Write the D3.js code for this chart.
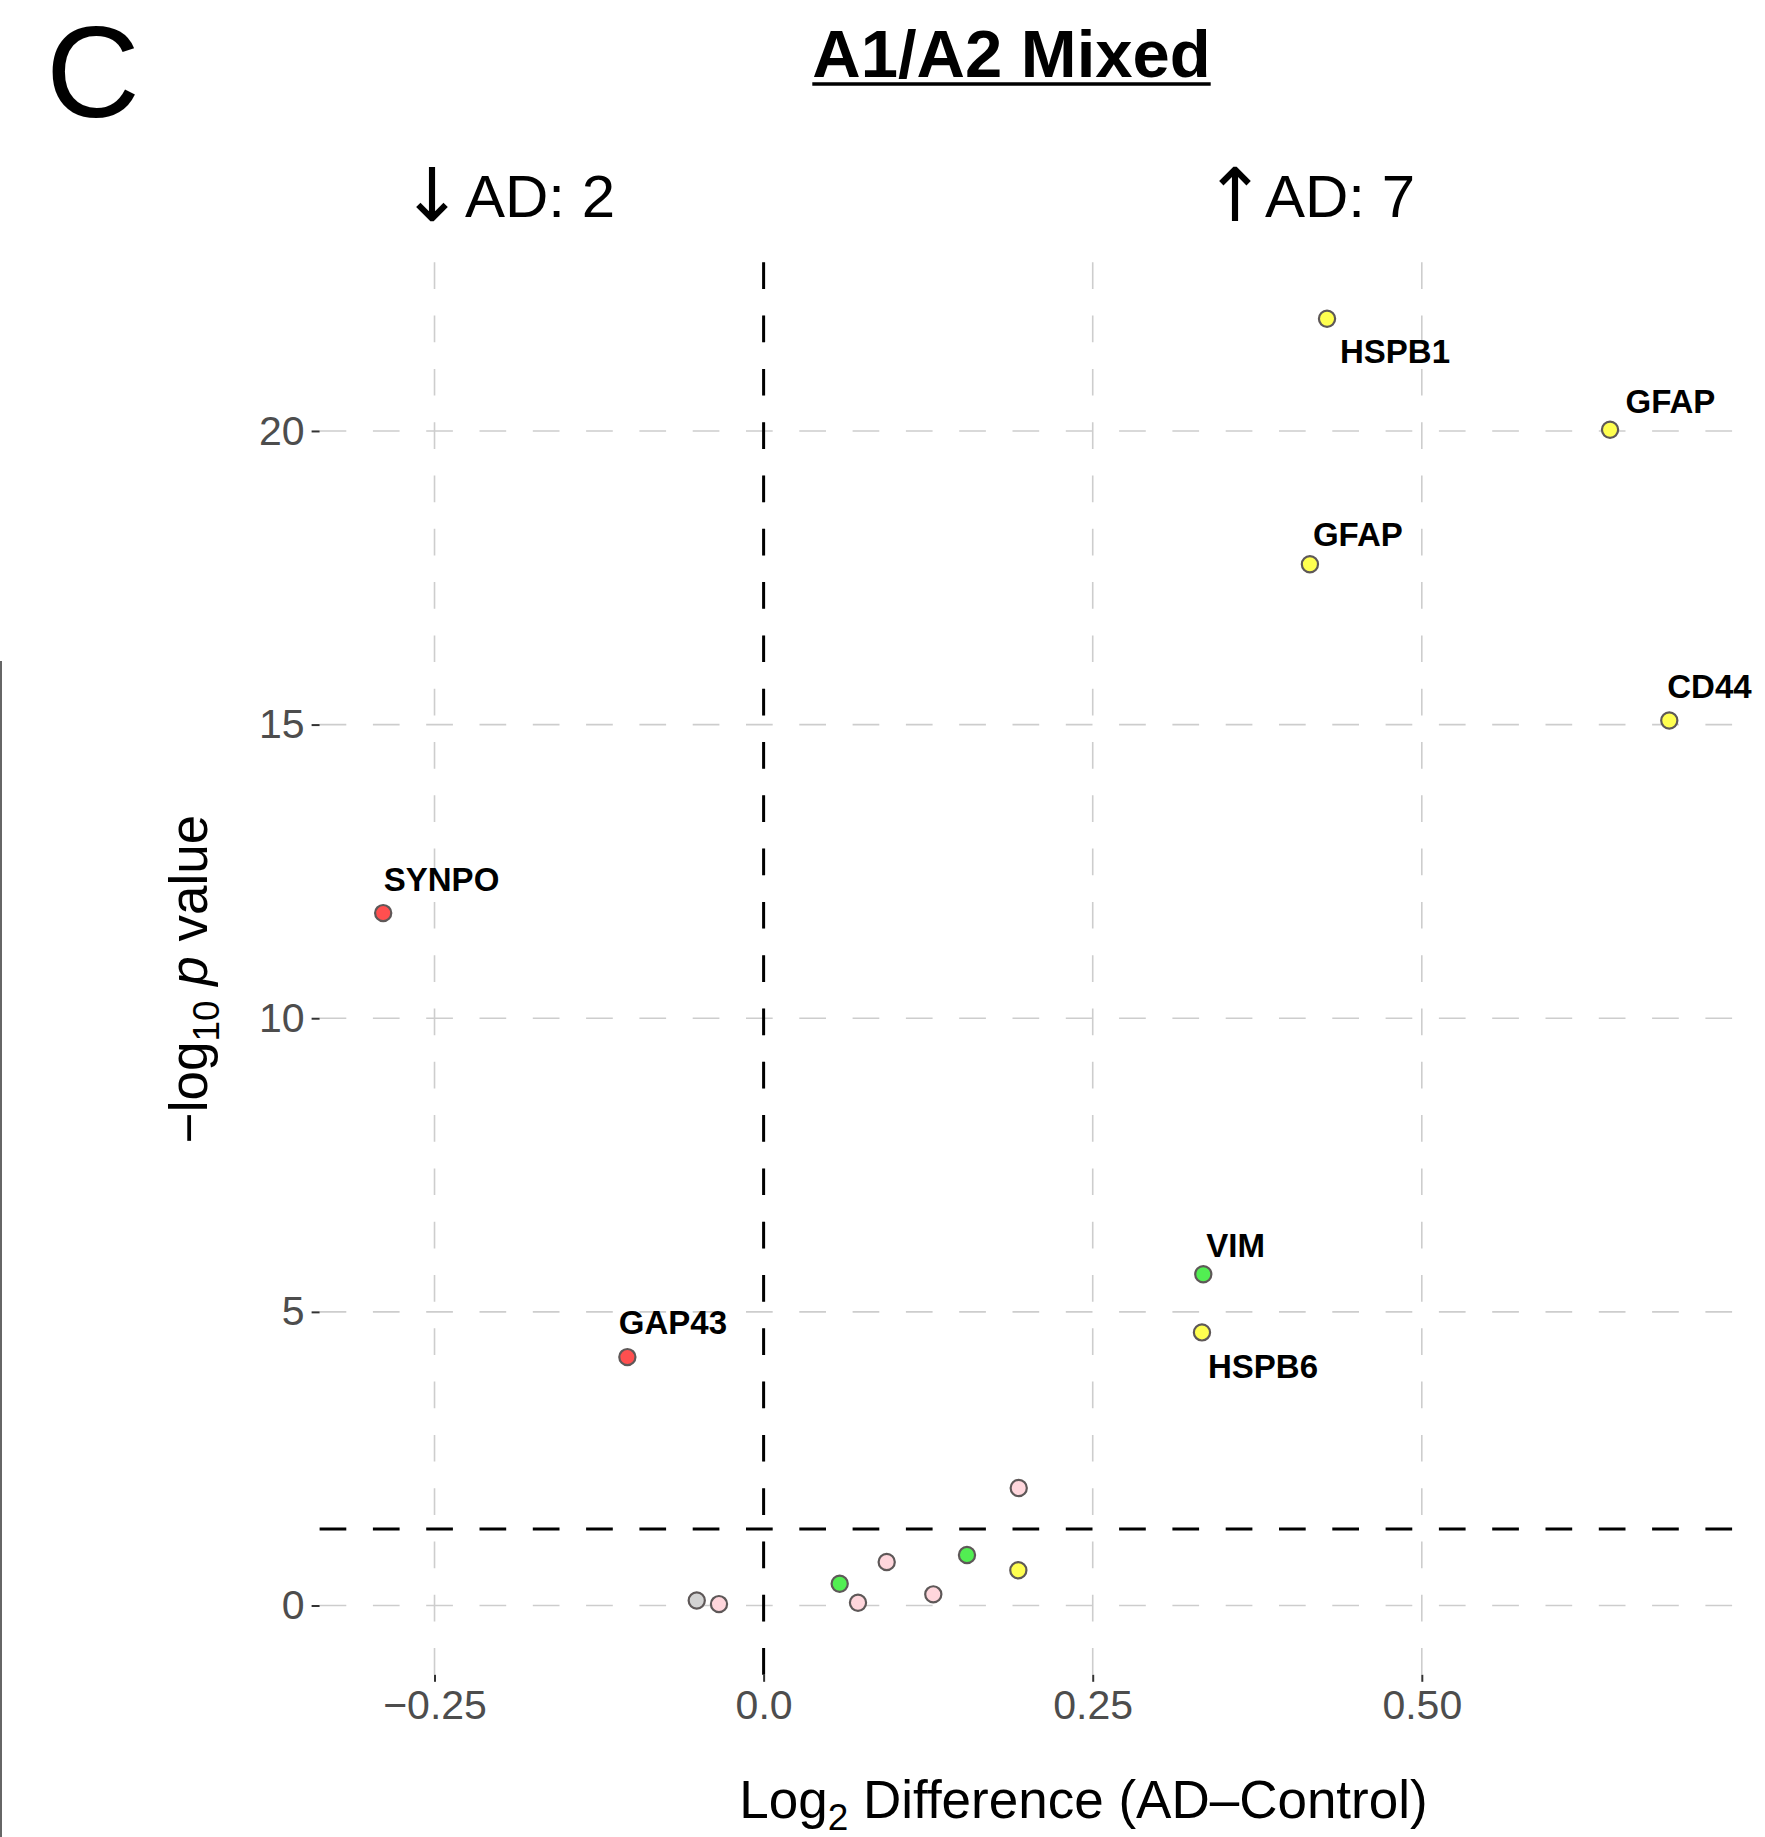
<!DOCTYPE html>
<html><head><meta charset="utf-8">
<script src="https://cdn.jsdelivr.net/npm/d3@7"></script>
<style>body{margin:0;background:#fff}svg{display:block}</style>
</head><body>
<svg id="chart" width="1765" height="1837"></svg>
<script>
// ---------------- data ----------------
const genes      = ["HSPB1","GFAP","GFAP","CD44","SYNPO","VIM","HSPB6","GAP43","","","","","","","","",""];
const log2Diff   = [0.428,0.643,0.415,0.688,-0.289,0.334,0.333,-0.1035,-0.0508,-0.0339,0.0578,0.0717,0.0935,0.1289,0.1545,0.1935,0.1938];
const negLog10P  = [21.91,20.02,17.73,15.07,11.79,5.64,4.65,4.23,0.085,0.024,0.37,0.046,0.74,0.19,0.86,0.60,2.00];
const groups     = ["yellow","yellow","yellow","yellow","red","green","yellow","red","gray","pink","green","pink","pink","pink","green","yellow","pink"];
const groupNames = ["red","yellow","green","pink","gray"];
const xTicks      = [-0.25, 0, 0.25, 0.5];
const xTickLabels = ["\u22120.25","0.0","0.25","0.50"];
const yTicks      = [0, 5, 10, 15, 20];
const yTickLabels = ["0","5","10","15","20"];
const pThreshold  = 0.05;
const titleText   = "A1/A2 Mixed";
const panelLetter = "C";
// label placement offsets (px, repel result)
const labelDx = [13, 15.5, 3, -2, 0.6, 3, 6, -8.6];
const labelDy = [43.8, -16.4, -18, -22.4, -22, -17, 46, -22.6];

// ---------------- layout ----------------
const W = 1765, H = 1837;
const P = {left: 319.6, right: 1732.6, top: 257.7, bottom: 1674.8};
const svg = d3.select("#chart");
const FONT = "'Liberation Sans', Arial, Helvetica, sans-serif";

const x = d3.scaleLinear().domain([-0.3373, 0.7361]).range([P.left, P.right]);
const y = d3.scaleLinear().domain([-1.18, 22.95]).range([P.bottom, P.top]);
const fill = d3.scaleOrdinal().domain(groupNames)
  .range(["#FF4F4F", "#FFFF50", "#52EE52", "#FFD6DC", "#D3D3D3"]);

const data = genes.map((g, i) => ({gene: g, x: log2Diff[i], y: negLog10P[i], grp: groups[i]}));

// left-edge figure artifact line
svg.append("line").attr("x1", 1).attr("x2", 1).attr("y1", 661).attr("y2", H)
  .attr("stroke", "#666").attr("stroke-width", 2);

// gridlines
const grid = svg.append("g");
const dash = "26.7,26.6";
yTicks.forEach(t => grid.append("line")
  .attr("x1", P.left).attr("x2", P.right).attr("y1", y(t)).attr("y2", y(t))
  .attr("stroke", "#CDCDCD").attr("stroke-width", 1.6).attr("stroke-dasharray", dash));
xTicks.forEach(t => grid.append("line")
  .attr("x1", x(t)).attr("x2", x(t)).attr("y1", P.bottom).attr("y2", P.top)
  .attr("stroke", "#CDCDCD").attr("stroke-width", 1.6).attr("stroke-dasharray", dash));

// reference lines
const thr = -Math.log10(pThreshold);
svg.append("line").attr("x1", P.left).attr("x2", P.right).attr("y1", y(thr)).attr("y2", y(thr))
  .attr("stroke", "#000").attr("stroke-width", 3).attr("stroke-dasharray", dash);
svg.append("line").attr("x1", x(0)).attr("x2", x(0)).attr("y1", P.bottom).attr("y2", P.top)
  .attr("stroke", "#000").attr("stroke-width", 3).attr("stroke-dasharray", dash);

// points
svg.append("g").selectAll("circle").data(data).join("circle")
  .attr("cx", d => x(d.x)).attr("cy", d => y(d.y)).attr("r", 8.1)
  .attr("fill", d => fill(d.grp)).attr("stroke", "#5E5858").attr("stroke-width", 2.2);

// labels
svg.append("g").selectAll("text").data(data.filter(d => d.gene !== "")).join("text")
  .attr("x", (d, i) => x(d.x) + labelDx[i]).attr("y", (d, i) => y(d.y) + labelDy[i])
  .attr("font-family", FONT).attr("font-weight", "bold").attr("font-size", 33)
  .attr("fill", "#000").text(d => d.gene);

// axes
const xAxis = d3.axisBottom(x).tickValues(xTicks).tickFormat((d, i) => xTickLabels[i]).tickSize(7).tickPadding(8);
const gx = svg.append("g").attr("transform", `translate(0,${P.bottom})`).call(xAxis);
gx.select(".domain").remove();
gx.selectAll(".tick line").attr("stroke", "#333").attr("stroke-width", 2);
gx.selectAll(".tick text").attr("font-family", FONT).attr("font-size", 41).attr("fill", "#4D4D4D");

const yAxis = d3.axisLeft(y).tickValues(yTicks).tickFormat((d, i) => yTickLabels[i]).tickSize(8).tickPadding(7);
const gy = svg.append("g").attr("transform", `translate(${P.left},0)`).call(yAxis);
gy.select(".domain").remove();
gy.selectAll(".tick line").attr("stroke", "#333").attr("stroke-width", 2);
gy.selectAll(".tick text").attr("font-family", FONT).attr("font-size", 41).attr("fill", "#4D4D4D");

// axis titles
const xt = svg.append("text").attr("x", 1083.5).attr("y", 1818).attr("text-anchor", "middle")
  .attr("font-family", FONT).attr("font-size", 53).attr("fill", "#000");
xt.append("tspan").text("Log");
xt.append("tspan").attr("font-size", 37).attr("dy", 12).text("2");
xt.append("tspan").attr("dy", -12).text(" Difference (AD\u2013Control)");

const yt = svg.append("text").attr("transform", "translate(207,979) rotate(-90)").attr("text-anchor", "middle")
  .attr("font-family", FONT).attr("font-size", 53).attr("fill", "#000");
yt.append("tspan").text("\u2212log");
yt.append("tspan").attr("font-size", 37).attr("dy", 12).text("10");
yt.append("tspan").attr("dy", -12).text(" ");
yt.append("tspan").attr("font-style", "italic").text("p");
yt.append("tspan").text(" value");

// counts
const nDown = data.filter(d => d.y > thr && d.x < 0).length;
const nUp   = data.filter(d => d.y > thr && d.x > 0).length;
function countLabel(arrow, txt, arrowX, textX) {
  const t = svg.append("text").attr("y", 217).attr("font-family", FONT).attr("font-size", 60).attr("fill", "#000");
  t.append("tspan").attr("x", arrowX).attr("text-anchor", "middle")
    .attr("font-family", "'DejaVu Sans', sans-serif").attr("font-size", 74).attr("dy", 4).text(arrow);
  t.append("tspan").attr("x", textX).attr("dy", -4).text(txt);
}
countLabel("\u2193", `AD: ${nDown}`, 432, 465);
countLabel("\u2191", `AD: ${nUp}`, 1235, 1265);

// title
const tt = svg.append("text").attr("x", 1011.5).attr("y", 77).attr("text-anchor", "middle")
  .attr("font-family", FONT).attr("font-weight", "bold").attr("font-size", 67).attr("fill", "#000")
  .text(titleText);
const tw = tt.node().getComputedTextLength();
svg.append("line").attr("x1", 1011.5 - tw / 2).attr("x2", 1011.5 + tw / 2).attr("y1", 84).attr("y2", 84)
  .attr("stroke", "#000").attr("stroke-width", 3.5);

// panel letter
svg.append("text").attr("x", 46).attr("y", 117).attr("font-family", FONT).attr("font-size", 130)
  .attr("fill", "#000").text(panelLetter);
</script>
</body></html>
